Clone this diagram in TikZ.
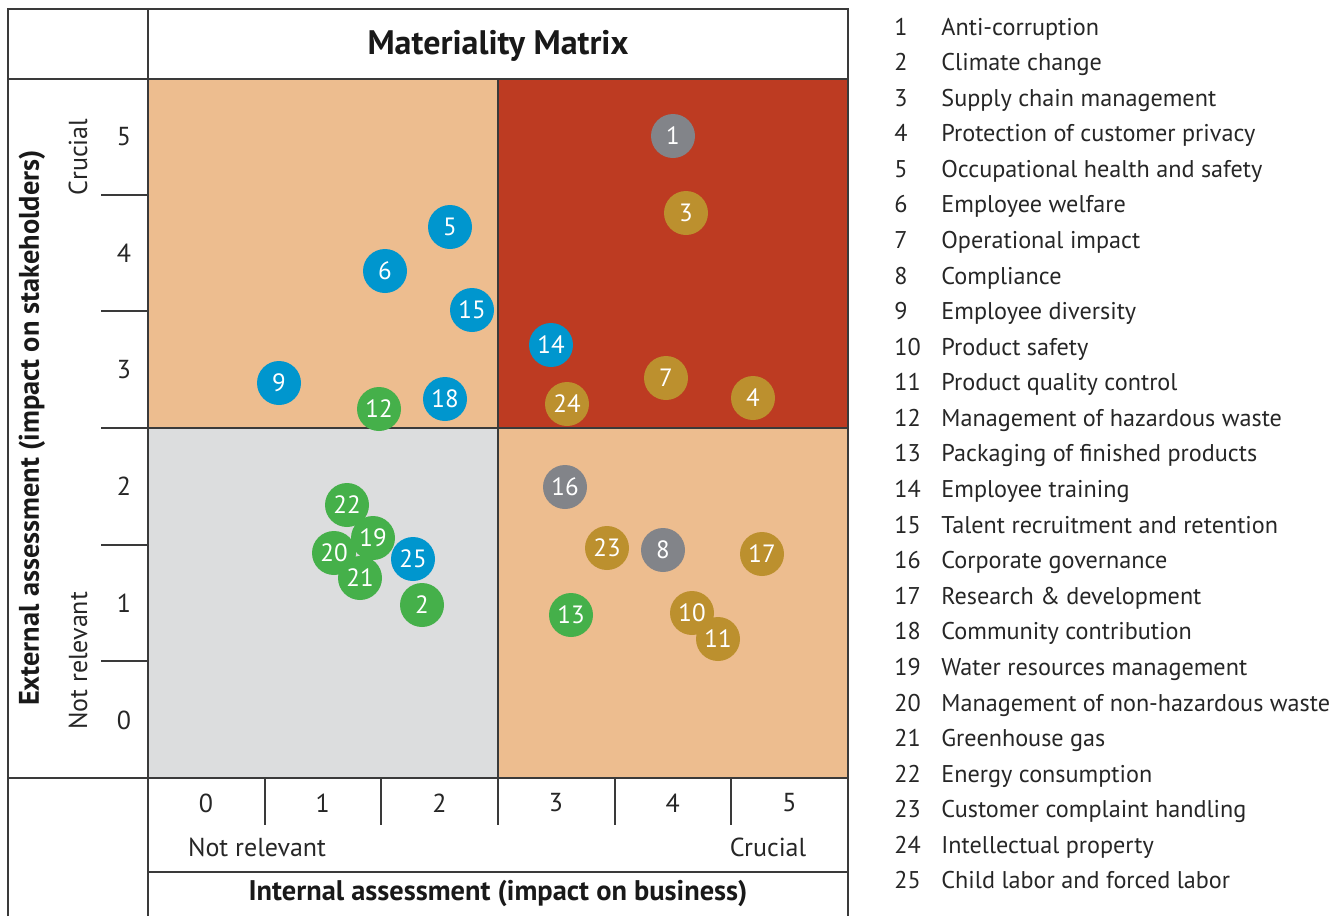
\documentclass[tikz,border=0pt]{standalone}
\usepackage{fontspec}
\setmainfont{PT Sans}
\definecolor{peach}{HTML}{EDBD8F}
\definecolor{hot}{HTML}{BD3B22}
\definecolor{pale}{HTML}{DCDDDE}
\definecolor{frame}{HTML}{3A3A3A}
\definecolor{blu}{HTML}{0096CE}
\definecolor{grn}{HTML}{45B04A}
\definecolor{gld}{HTML}{BC902E}
\definecolor{gry}{HTML}{828489}
\tikzset{
  bubble/.style = {circle, minimum size = 22pt, inner sep = 0pt, text = white, font = \fontsize{12.5}{13}\selectfont},
  lbl/.style = {font = \fontsize{13}{14}\selectfont, text = black!85},
  item/.style = {font = \fontsize{12.1}{13}\selectfont, text = black!85, anchor = base west, inner sep = 0pt},
  heading/.style = {font = \bfseries\fontsize{14.2}{15}\selectfont, text = black!90}
}

\begin{document}
\begin{tikzpicture}[x = 0.5pt, y = -0.5pt]
\useasboundingbox (0,0) rectangle (1343,916);

% quadrants
\draw[frame, line width = 1pt, fill = peach] (148,79) rectangle (498,428);
\draw[frame, line width = 1pt, fill = hot] (498,79) rectangle (848,428);
\draw[frame, line width = 1pt, fill = pale] (148,428) rectangle (498,778);
\draw[frame, line width = 1pt, fill = peach] (498,428) rectangle (848,778);

% frame
\draw[frame, line width = 1pt] (8,916) -- (8,9) -- (848,9) -- (848,916);
\draw[frame, line width = 1pt] (148,9) -- (148,916);
\draw[frame, line width = 1pt] (8,79) -- (848,79);
\draw[frame, line width = 1pt] (8,778) -- (848,778);
\draw[frame, line width = 1pt] (148,872) -- (848,872);

\foreach \i in {1,...,5}
	\draw[frame, line width = 1pt] (101,{778-\i*700/6}) -- (148,{778-\i*700/6});
\foreach \i in {1,...,5}
	\draw[frame, line width = 1pt] ({148+\i*700/6},778) -- ({148+\i*700/6},825);

\foreach \i in {0,...,5} {
	\node[lbl] (yt\i) at (124,{720-\i*700/6}) {\i};
	\node[lbl] (xt\i) at ({206+\i*700/6},803) {\i};
}

\node[heading, font = \bfseries\fontsize{17}{18}\selectfont] (title) at (498,46) {Materiality Matrix};
\node[heading] (xaxis) at (498,893) {Internal assessment (impact on business)};
\node[heading, rotate = 90] (yaxis) at (32,428) {External assessment (impact on stakeholders)};
\node[lbl] (xlow) at (257,847) {Not relevant};
\node[lbl] (xhigh) at (768,847) {Crucial};
\node[lbl, rotate = 90] (ylow) at (78,661) {Not relevant};
\node[lbl, rotate = 90] (yhigh) at (78,157) {Crucial};

% topics
\foreach \n/\x/\y/\c in {1/673/136/gry, 3/686/213/gld, 5/450/227/blu, 6/385/271/blu, 15/472/310/blu,
	14/551/345/blu, 9/279/383/blu, 12/379/409/grn, 18/445/399/blu, 7/666/378/gld, 24/567/404/gld,
	4/753/398/gld, 16/565/487/gry, 23/607/548/gld, 8/663/550/gry, 17/762/554/gld, 13/571/615/grn,
	10/692/613/gld, 11/718/639/gld, 22/347/505/grn, 20/334/553/grn, 19/373/538/grn, 21/360/578/grn,
	25/413/559/blu, 2/422/605/grn}
	\node[bubble, fill = \c] (b\n) at (\x,\y) {\n};

% legend
\foreach \n/\t [count = \k from 0] in {1/Anti-corruption, 2/Climate change, 3/Supply chain management,
	4/Protection of customer privacy, 5/Occupational health and safety, 6/Employee welfare,
	7/Operational impact, 8/Compliance, 9/Employee diversity, 10/Product safety,
	11/Product quality control, 12/Management of hazardous waste, 13/Packaging of finished products,
	14/Employee training, 15/Talent recruitment and retention, 16/Corporate governance,
	17/Research \& development, 18/Community contribution, 19/Water resources management,
	20/Management of non-hazardous waste, 21/Greenhouse gas, 22/Energy consumption,
	23/Customer complaint handling, 24/Intellectual property, 25/Child labor and forced labor} {
	\node[item] (num\n) at (894,{35+\k*35.58}) {\n};
	\node[item] (item\n) at (941,{35+\k*35.58}) {\t};
}
\end{tikzpicture}
\end{document}
